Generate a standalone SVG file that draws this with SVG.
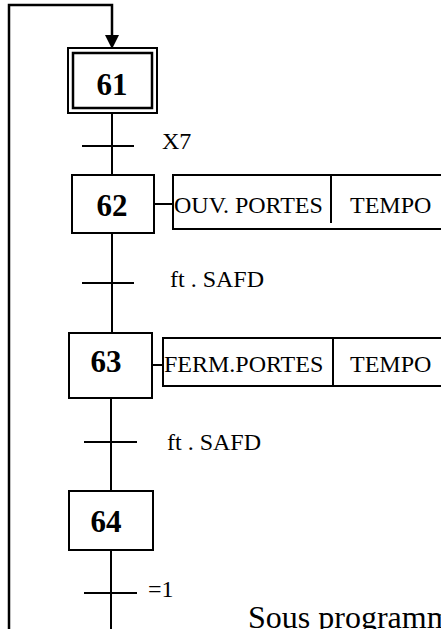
<svg xmlns="http://www.w3.org/2000/svg" width="441" height="629" viewBox="0 0 441 629">
<style>
.ln{stroke:#000;stroke-width:2;fill:none}
.bx{stroke:#000;stroke-width:2;fill:#fff}
.num{font-family:"Liberation Serif",serif;font-weight:bold;font-size:31px;text-anchor:middle}
.lbl{font-family:"Liberation Serif",serif;font-size:24px}
.big{font-family:"Liberation Serif",serif;font-size:32px}
</style>
<g id="connectors">
<path class="ln" d="M9,629 L9,5 L112,5 L112,36" style="stroke-width:2.5"/>
<path d="M105,35 L119,35 L112,49 Z" fill="#000"/>
<line class="ln" x1="112" y1="113" x2="112" y2="175"/>
<line class="ln" x1="112" y1="233" x2="112" y2="333"/>
<line class="ln" x1="111" y1="398" x2="111" y2="491"/>
<line class="ln" x1="111" y1="550" x2="111" y2="629"/>
<line class="ln" x1="154" y1="204" x2="173" y2="204"/>
<line class="ln" x1="152" y1="365" x2="163" y2="365"/>
</g>
<g id="t1"><line class="ln" x1="82" y1="146" x2="134" y2="146"/><text class="lbl" x="162" y="149">X7</text></g>
<g id="t2"><line class="ln" x1="82" y1="283" x2="134" y2="283"/><text class="lbl" x="170" y="287">ft . SAFD</text></g>
<g id="t3"><line class="ln" x1="84" y1="442" x2="137" y2="442"/><text class="lbl" x="167" y="450">ft . SAFD</text></g>
<g id="t4"><line class="ln" x1="84" y1="593" x2="137" y2="593"/><text class="lbl" x="148" y="597">=1</text></g>
<g id="step61">
<rect class="bx" x="68" y="48" width="89" height="65"/>
<rect class="bx" x="73" y="53" width="79" height="55" style="stroke-width:2.5"/>
<text class="num" x="112" y="95">61</text>
</g>
<g id="step62">
<rect class="bx" x="72" y="175" width="82" height="58"/>
<text class="num" x="112" y="216">62</text>
</g>
<g id="action62">
<path class="ln" d="M450,175 L173,175 L173,229 L450,229"/>
<line class="ln" x1="331" y1="175" x2="331" y2="223"/>
<text class="lbl" x="174" y="213">OUV. PORTES</text>
<text class="lbl" x="350" y="213">TEMPO</text>
</g>
<g id="step63">
<rect class="bx" x="69" y="333" width="83" height="65"/>
<text class="num" x="106" y="372">63</text>
</g>
<g id="action63">
<path class="ln" d="M450,338 L163,338 L163,386 L450,386"/>
<line class="ln" x1="333" y1="338" x2="333" y2="386"/>
<text class="lbl" x="164" y="372">FERM.PORTES</text>
<text class="lbl" x="350" y="372">TEMPO</text>
</g>
<g id="step64">
<rect class="bx" x="69" y="491" width="84" height="59"/>
<text class="num" x="106" y="532">64</text>
</g>
<text class="big" x="248" y="628">Sous programme</text>
</svg>
